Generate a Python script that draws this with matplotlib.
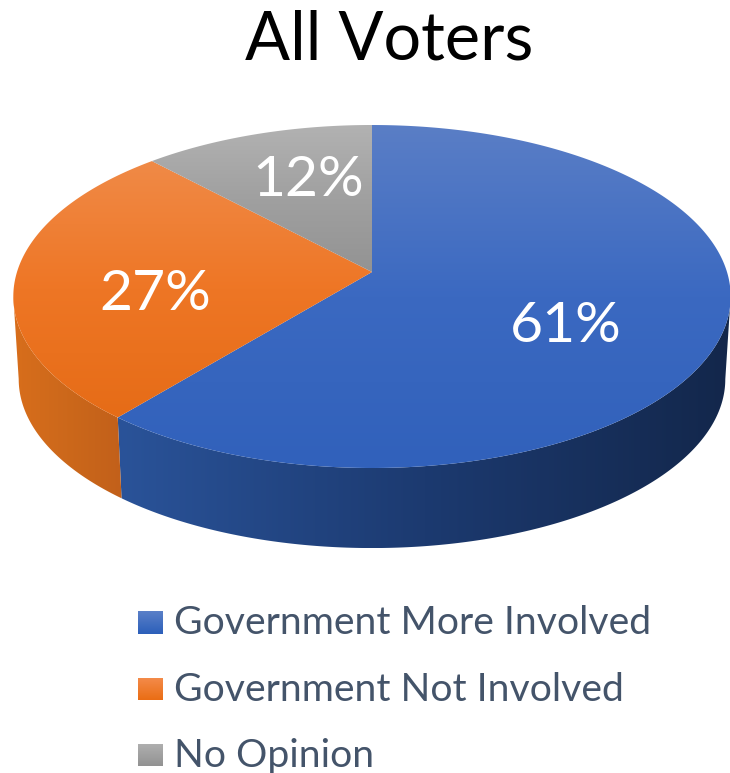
import numpy as np
import matplotlib.pyplot as plt
from matplotlib.colors import LinearSegmentedColormap
from matplotlib.patches import Polygon

# Data
categories = ['Government More Involved', 'Government Not Involved', 'No Opinion']
values = [61, 27, 12]
value_labels = ['61%', '27%', '12%']
title = 'All Voters'

# Colours: top face (y gradient), side (x gradient), legend swatch
top_colors = [['#5a7ec6', '#3b69c1', '#3161bb'],
              ['#f08a47', '#ee7625', '#e66c17'],
              ['#b2b2b2', '#a0a0a0', '#939393']]
side_colors = [['#2a5399', '#1c3a70', '#13274b'],
               ['#d86e1c', '#cc681b', '#c2601a'],
               ['#777777', '#777777', '#777777']]
swatch_colors = [['#5a80c8', '#2c5fba'],
                 ['#f48c4c', '#ea6d14'],
                 ['#b0b0b0', '#929292']]

# Pie projection (pixels of the image)
CX, CY = 372, 272
RX, RY, PERSP = 355, 168, 1 / 7
DEPTH_Y, DEPTH_SCALE = 83, 0.985

label_pos = [(566, 326), (155, 294), (308, 181)]
legend_y = [622.5, 689, 755]


def project(theta, scale=1.0, dy=0):
    # theta runs clockwise from 12 o'clock, the rim seen in perspective
    u, v = np.sin(theta), np.cos(theta)
    w = 1 + PERSP * v
    return CX + scale * RX * u / w, CY + dy - scale * RY * v / w


def gradient(ax, patch, colors, horizontal=False):
    cmap = LinearSegmentedColormap.from_list('g', colors)
    xy = patch.get_xy()
    x0, x1, y0, y1 = xy[:, 0].min(), xy[:, 0].max(), xy[:, 1].min(), xy[:, 1].max()
    g = np.linspace(0, 1, 256)
    g = g.reshape(1, -1) if horizontal else g.reshape(-1, 1)
    im = ax.imshow(g, cmap=cmap, extent=(x0, x1, y1, y0), aspect='auto', zorder=patch.get_zorder())
    patch.set_visible(False)
    ax.add_patch(patch)
    im.set_clip_path(patch)


fig = plt.figure(figsize=(7.30, 7.73), dpi=100)
ax = fig.add_axes([0, 0, 1, 1])

plt.rcParams['font.family'] = ['Lato', 'DejaVu Sans']

# rim angle where the outline is widest
edge = np.pi / 2 + np.arcsin(PERSP)
fractions = np.cumsum([0] + values) / sum(values) * 2 * np.pi

for i in range(len(values)):
    start, end = fractions[i], fractions[i + 1]

    # side wall, only the part facing the viewer
    a, b = max(start, edge), min(end, 2 * np.pi - edge)
    if b > a:
        t = np.linspace(a, b, 200)
        x1, y1 = project(t)
        x2, y2 = project(t[::-1], DEPTH_SCALE, DEPTH_Y)
        side = Polygon(np.column_stack([np.r_[x1, x2], np.r_[y1, y2]]), closed=True, zorder=2)
        gradient(ax, side, side_colors[i], horizontal=True)

    # top face
    t = np.linspace(start, end, 300)
    x, y = project(t)
    face = Polygon(np.column_stack([np.r_[CX, x], np.r_[CY, y]]), closed=True, zorder=3)
    gradient(ax, face, top_colors[i])

    ax.text(label_pos[i][0], label_pos[i][1], value_labels[i], color='white', fontsize=41,
            ha='center', va='center', zorder=5)

    # legend
    ly = legend_y[i]
    swatch = Polygon([(138, ly - 11.5), (163, ly - 11.5), (163, ly + 11.5), (138, ly + 11.5)], closed=True, zorder=3)
    gradient(ax, swatch, swatch_colors[i])
    ax.text(174, ly + 1, categories[i], color='#44546a', fontsize=28.2, ha='left', va='center', zorder=5)

ax.text(389, 41, title, color='black', fontsize=48, ha='center', va='center', zorder=5)

ax.set_xlim(0, 730)
ax.set_ylim(773, 0)
ax.axis('off')

plt.savefig('out.png', dpi=100)
